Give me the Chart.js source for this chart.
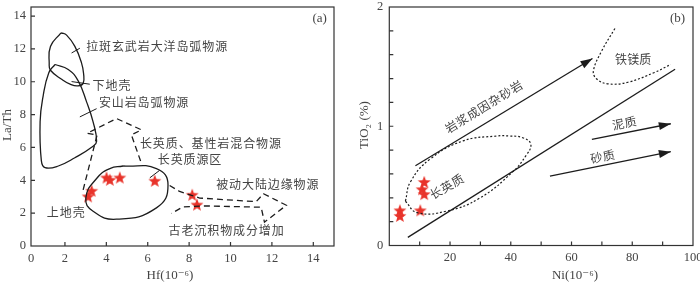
<!DOCTYPE html>
<html lang="zh">
<head>
  <meta charset="utf-8">
  <title>Hf-La/Th 与 Ni-TiO2 物源判别图</title>
  <script src="https://cdn.jsdelivr.net/npm/chart.js@4.4.1/dist/chart.umd.min.js"></script>
  <style>
    html, body { margin: 0; padding: 0; background: #fff; }
    .wrap { position: relative; width: 700px; height: 282px; }
    .pane { position: absolute; top: 0; width: 350px; height: 282px; }
  </style>
</head>
<body>
  <div class="wrap">
    <div class="pane" style="left:0"><canvas id="chartA" width="350" height="282"></canvas></div>
    <div class="pane" style="left:350px"><canvas id="chartB" width="350" height="282"></canvas></div>
  </div>
  <script>
    // ---- (a) Hf vs La/Th ----
    const hfTicks = [0, 2, 4, 6, 8, 10, 12, 14];
    const laThTicks = [0, 2, 4, 6, 8, 10, 12, 14];
    const hfSample = [3.12, 3.29, 4.01, 4.17, 4.65, 6.34, 8.15, 8.38];
    const laThSample = [3.02, 3.36, 4.17, 4.03, 4.17, 3.97, 3.12, 2.52];

    const tholeiiteArc = [[1.81, 12.98], [2.08, 12.84], [2.48, 12.15], [2.80, 11.15], [2.90, 10.5],
      [2.88, 9.9], [2.64, 9.75], [2.30, 9.82], [1.84, 10.15], [1.30, 10.7], [1.24, 11.1], [1.30, 12.15], [1.81, 12.98]];
    const andesiteArc = [[1.52, 11.05], [2.16, 10.75], [2.64, 10.05], [3.05, 8.76], [3.36, 7.56], [3.53, 6.37],
      [3.36, 6.07], [2.48, 5.37], [1.68, 4.87], [1.04, 4.77], [0.86, 5.2], [0.80, 7.56], [0.95, 9.16],
      [1.22, 10.55], [1.52, 11.05]];
    const felsicSource = [[4.81, 4.87], [6.42, 4.71], [6.98, 3.72], [6.42, 2.32], [4.49, 1.63], [3.36, 2.12],
      [3.01, 2.92], [3.53, 4.11], [4.17, 4.71], [4.81, 4.87]];
    const mixedSource = [[2.88, 3.42], [3.55, 6.75], [3.07, 6.86], [4.49, 7.76], [5.70, 7.07], [5.21, 6.77], [5.70, 5.01]];
    const passiveMargin = [[7.06, 3.68], [7.54, 3.32], [8.51, 2.92], [11.24, 2.70], [11.59, 3.18], [12.70, 2.48],
      [11.64, 1.45], [11.48, 2.36], [8.83, 2.44], [7.70, 2.38], [7.14, 1.98]];

    // ---- (b) Ni vs TiO2 ----
    const niTicks = [20, 40, 60, 80, 100];
    const tiO2Ticks = [0, 1, 2];
    const niSample = [3.5, 3.5, 10.2, 11.5, 10.8, 11.5];
    const tiO2Sample = [0.295, 0.248, 0.295, 0.533, 0.472, 0.431];

    const felsicField = [[5.3, 0.371], [9.2, 0.275], [18.9, 0.289], [29.8, 0.398], [40.6, 0.617], [45.0, 0.754],
      [46.6, 0.849], [43.9, 0.904], [39.5, 0.918], [35.2, 0.918], [24.3, 0.877], [13.5, 0.726], [7.0, 0.535], [5.3, 0.371]];
    const maficField = [[74.3, 1.82], [69.9, 1.63], [67.2, 1.464], [68.3, 1.396], [72.1, 1.355], [78.6, 1.369],
      [87.3, 1.451], [92.7, 1.519]];
    const boundLine = [[6.1, 0.068], [94.1, 1.478]];
    const magmaArrow = [[8.6, 0.669], [66.9, 1.568]];
    const mudArrow = [[66.7, 0.89], [92.7, 1.021]];
    const sandArrow = [[52.9, 0.582], [92.7, 0.787]];

    const INK = '#1c1c1c';
    const TEXT = '#444';
    const CJK = '"Noto Sans CJK SC", sans-serif';
    const SERIF = '"Liberation Serif", "DejaVu Serif", serif';

    // red five-pointed star used as point style
    const starImg = document.createElement('canvas');
    starImg.width = 14; starImg.height = 14;
    (function () {
      const c = starImg.getContext('2d');
      c.fillStyle = '#e8332a';
      c.beginPath();
      for (let i = 0; i < 10; i++) {
        const r = i % 2 ? 2.8 : 6.8;
        const a = -Math.PI / 2 + i * Math.PI / 5;
        c.lineTo(7 + r * Math.cos(a), 7.6 + r * Math.sin(a));
      }
      c.closePath();
      c.fill();
    })();

    const toXY = pts => pts.map(([x, y]) => ({ x, y }));
    function curve(pts, extra) {
      return Object.assign({
        data: toXY(pts), showLine: true, pointRadius: 0, borderColor: INK,
        borderWidth: 1.3, tension: 0.45, fill: false
      }, extra);
    }
    function stars(xs, ys) {
      return { data: xs.map((x, i) => ({ x, y: ys[i] })), pointStyle: starImg, pointRadius: 6, showLine: false };
    }

    // CJK labels are spread out char by char, like the original
    function drawSpaced(ctx, text, cx, cy, adv, rot) {
      const chars = [...text];
      ctx.save();
      ctx.translate(cx, cy);
      ctx.rotate(rot || 0);
      const start = -(chars.length - 1) * adv / 2;
      chars.forEach((ch, i) => ctx.fillText(ch, start + i * adv, 0));
      ctx.restore();
    }

    // frame, inward ticks, arrowheads, leaders and labels
    const decor = {
      id: 'decor',
      afterDatasetsDraw(chart, args, o) {
        const { ctx, chartArea: a, scales: { x, y } } = chart;
        ctx.save();
        chart.data.datasets.forEach(ds => {
          if (!ds.arrow) return;
          const n = ds.data.length, p = ds.data[n - 1], q = ds.data[n - 2];
          const x1 = x.getPixelForValue(p.x), y1 = y.getPixelForValue(p.y);
          const x0 = x.getPixelForValue(q.x), y0 = y.getPixelForValue(q.y);
          const t = Math.atan2(y1 - y0, x1 - x0), L = 12, W = 4;
          ctx.fillStyle = INK;
          ctx.beginPath();
          ctx.moveTo(x1, y1);
          ctx.lineTo(x1 - L * Math.cos(t) + W * Math.sin(t), y1 - L * Math.sin(t) - W * Math.cos(t));
          ctx.lineTo(x1 - L * Math.cos(t) - W * Math.sin(t), y1 - L * Math.sin(t) + W * Math.cos(t));
          ctx.closePath();
          ctx.fill();
        });

        ctx.strokeStyle = '#333';
        ctx.lineWidth = 1.2;
        ctx.strokeRect(a.left, a.top, a.right - a.left, a.bottom - a.top);
        ctx.beginPath();
        o.xMarks.forEach(v => { const px = x.getPixelForValue(v); ctx.moveTo(px, a.bottom); ctx.lineTo(px, a.bottom - 4); });
        o.yMarks.forEach(v => { const py = y.getPixelForValue(v); ctx.moveTo(a.left, py); ctx.lineTo(a.left + 4, py); });
        ctx.stroke();

        ctx.strokeStyle = INK;
        ctx.lineWidth = 1;
        ctx.beginPath();
        (o.leaders || []).forEach(([x0, y0, x1, y1]) => {
          ctx.moveTo(x.getPixelForValue(x0), y.getPixelForValue(y0));
          ctx.lineTo(x.getPixelForValue(x1), y.getPixelForValue(y1));
        });
        ctx.stroke();

        ctx.fillStyle = TEXT;
        ctx.textAlign = 'center';
        ctx.textBaseline = 'middle';
        o.labels.forEach(l => {
          const px = x.getPixelForValue(l.x), py = y.getPixelForValue(l.y);
          if (l.serif) {
            ctx.font = '13px ' + SERIF;
            ctx.fillText(l.text, px, py);
          } else {
            ctx.font = '12px ' + CJK;
            drawSpaced(ctx, l.text, px, py, l.adv || 12.9, (l.rot || 0) * Math.PI / 180);
          }
        });
        ctx.restore();
      },
      afterDraw(chart, args, o) {
        const ctx = chart.ctx;
        ctx.save();
        ctx.fillStyle = TEXT;
        ctx.font = '13px ' + SERIF;
        ctx.textAlign = 'center';
        ctx.textBaseline = 'middle';
        o.titles.forEach(t => {
          ctx.save();
          ctx.translate(t.cx, t.cy);
          ctx.rotate((t.rot || 0) * Math.PI / 180);
          ctx.fillText(t.text, 0, 0);
          ctx.restore();
        });
        ctx.restore();
      }
    };

    const tickFont = { family: SERIF, size: 12.5 };
    function zeroPad(s) { s.paddingLeft = 0; s.paddingRight = 0; s.paddingTop = 0; s.paddingBottom = 0; }

    new Chart(document.getElementById('chartA'), {
      type: 'scatter',
      data: {
        datasets: [
          curve(tholeiiteArc),
          curve(andesiteArc),
          curve(felsicSource, { tension: 0.5 }),
          curve(mixedSource, { tension: 0, borderDash: [6, 4] }),
          curve(passiveMargin, { tension: 0, borderDash: [6, 4] }),
          stars(hfSample, laThSample)
        ]
      },
      options: {
        responsive: false, animation: false, events: [],
        layout: { padding: { left: 0, right: 16, top: 3, bottom: 0 } },
        scales: {
          x: {
            type: 'linear', min: 0.36, max: 15,
            // the original's "0" label sits on the frame, a bit off the true zero
            afterBuildTicks: s => { s.ticks = hfTicks.map((v, i) => ({ value: i === 0 ? s.min : v })); },
            afterFit: s => { s.height = 36; zeroPad(s); },
            grid: { display: false, drawTicks: false }, border: { display: false },
            ticks: { callback: (v, i) => hfTicks[i], padding: 5, font: tickFont, color: TEXT, maxRotation: 0, autoSkip: false }
          },
          y: {
            type: 'linear', min: 0, max: 14.55,
            afterBuildTicks: s => { s.ticks = laThTicks.map(v => ({ value: v })); },
            afterFit: s => { s.width = 31; zeroPad(s); },
            grid: { display: false, drawTicks: false }, border: { display: false },
            ticks: { padding: 5, font: tickFont, color: TEXT, autoSkip: false }
          }
        },
        plugins: {
          legend: { display: false }, tooltip: { enabled: false },
          decor: {
            xMarks: hfTicks.slice(1), yMarks: laThTicks.slice(1),
            leaders: [[2.32, 11.75, 2.72, 12.04], [2.32, 10.01, 3.20, 9.85], [2.72, 7.86, 3.53, 8.36], [6.10, 4.15, 6.58, 4.61]],
            labels: [
              { text: '拉斑玄武岩大洋岛弧物源', x: 6.43, y: 12.16 },
              { text: '下地壳', x: 4.25, y: 9.79 },
              { text: '安山岩岛弧物源', x: 5.80, y: 8.71 },
              { text: '长英质、基性岩混合物源', x: 9.03, y: 6.25 },
              { text: '长英质源区', x: 8.02, y: 5.27 },
              { text: '上地壳', x: 2.04, y: 2.02 },
              { text: '被动大陆边缘物源', x: 11.78, y: 3.75 },
              { text: '古老沉积物成分增加', x: 9.79, y: 0.93 },
              { text: '(a)', x: 14.31, y: 13.84, serif: true }
            ],
            titles: [
              { text: 'Hf(10⁻⁶)', cx: 170, cy: 275.5 },
              { text: 'La/Th', cx: 8, cy: 125, rot: -90 }
            ]
          }
        }
      },
      plugins: [decor]
    });

    new Chart(document.getElementById('chartB'), {
      type: 'scatter',
      data: {
        datasets: [
          curve(felsicField, { borderDash: [2, 2], borderWidth: 1.2, tension: 0.45 }),
          curve(maficField, { borderDash: [2, 2], borderWidth: 1.2, tension: 0.4 }),
          curve(boundLine, { tension: 0 }),
          curve(magmaArrow, { tension: 0, arrow: true }),
          curve(mudArrow, { tension: 0, arrow: true }),
          curve(sandArrow, { tension: 0, arrow: true }),
          stars(niSample, tiO2Sample)
        ]
      },
      options: {
        responsive: false, animation: false, events: [],
        layout: { padding: { left: 0, right: 3.5, top: 1.5, bottom: 0 } },
        scales: {
          x: {
            type: 'linear', min: 0, max: 100,
            afterBuildTicks: s => { s.ticks = niTicks.map(v => ({ value: v })); },
            afterFit: s => { s.height = 36.5; zeroPad(s); },
            grid: { display: false, drawTicks: false }, border: { display: false },
            ticks: { padding: 5, font: tickFont, color: TEXT, maxRotation: 0, autoSkip: false }
          },
          y: {
            type: 'linear', min: 0, max: 2,
            afterBuildTicks: s => { s.ticks = tiO2Ticks.map(v => ({ value: v })); },
            afterFit: s => { s.width = 39.3; zeroPad(s); },
            grid: { display: false, drawTicks: false }, border: { display: false },
            ticks: { padding: 6, font: tickFont, color: TEXT, autoSkip: false }
          }
        },
        plugins: {
          legend: { display: false }, tooltip: { enabled: false },
          decor: {
            xMarks: [10, 20, 30, 40, 50, 60, 70, 80, 90],
            yMarks: [0.2, 0.4, 0.6, 0.8, 1.0, 1.2, 1.4, 1.6, 1.8],
            labels: [
              { text: '岩浆成因杂砂岩', x: 31.1, y: 1.164, rot: -31.5, adv: 12.7 },
              { text: '铁镁质', x: 80.3, y: 1.559, adv: 12.2 },
              { text: '泥质', x: 77.4, y: 1.027, rot: -12, adv: 12.5 },
              { text: '砂质', x: 70.2, y: 0.746, rot: -12, adv: 12.5 },
              { text: '长英质', x: 18.9, y: 0.494, rot: -30, adv: 12.5 },
              { text: '(b)', x: 94.9, y: 1.90, serif: true }
            ],
            titles: [
              { text: 'Ni(10⁻⁶)', cx: 225, cy: 275.5 },
              { text: 'TiO₂ (%)', cx: 15, cy: 125, rot: -90 }
            ]
          }
        }
      },
      plugins: [decor]
    });
  </script>
</body>
</html>
